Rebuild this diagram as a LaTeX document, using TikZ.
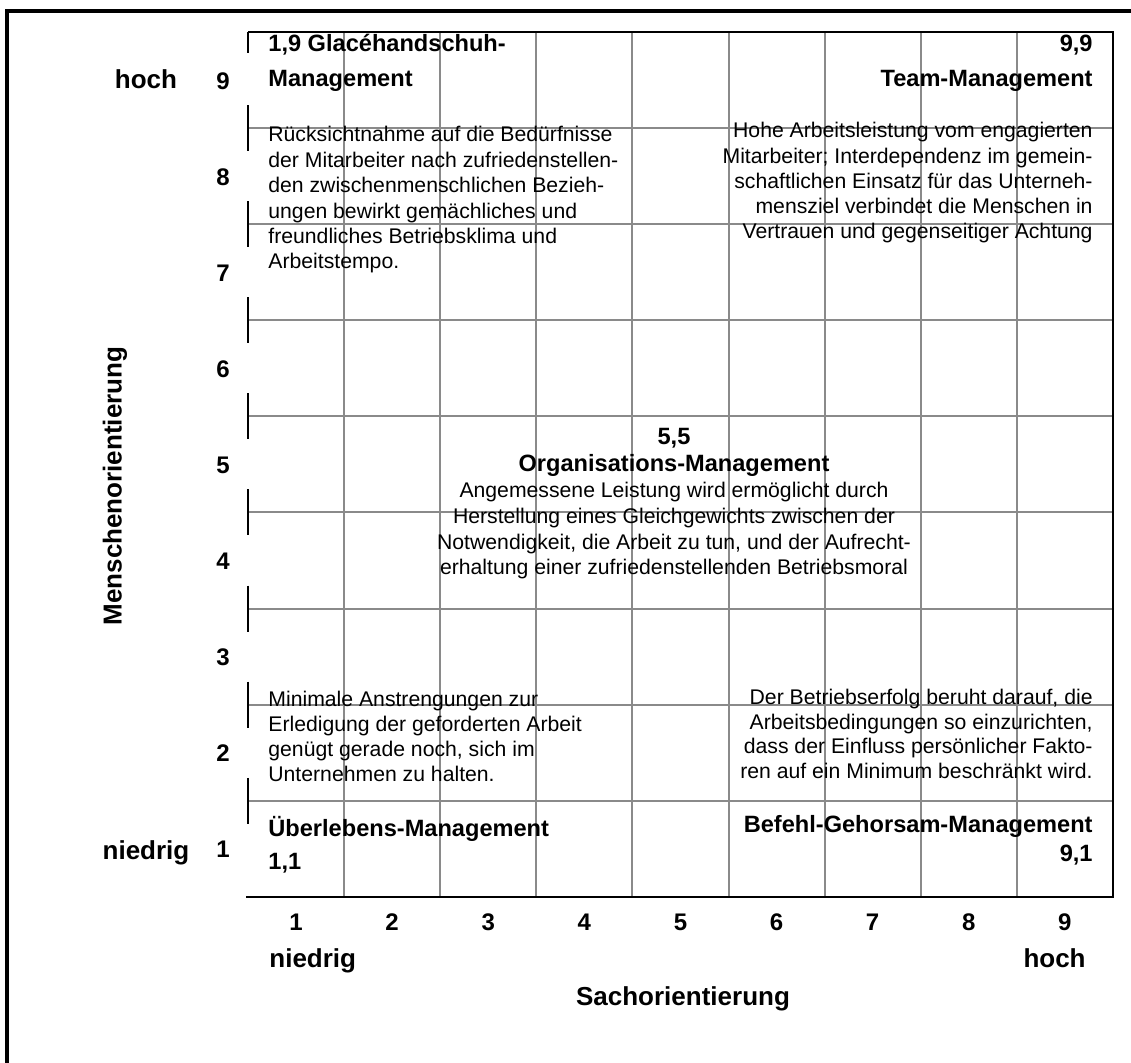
\documentclass[tikz,border=0pt]{standalone}
\usepackage{fontspec}
\setmainfont{Liberation Sans}
\definecolor{GridGray}{HTML}{8A8A8A}

\begin{document}
\begin{tikzpicture}[x=0.5pt,y=-0.5pt,
    gridline/.style={GridGray,line width=1pt},
    border/.style={black,line width=1pt},
    body/.style={font=\fontsize{10.6}{12.7}\selectfont,inner sep=0pt},
    head/.style={font=\fontsize{11.8}{14}\selectfont\bfseries,inner sep=0pt},
    axnum/.style={font=\fontsize{12}{14}\selectfont\bfseries,inner sep=0pt},
    axlab/.style={font=\fontsize{13}{15}\selectfont\bfseries,inner sep=0pt}]
    \def\C{96.1}
    \def\L{248}
    \def\T{32}
    \useasboundingbox (0,0) rectangle (1131,1063);
    \draw[line width=2pt] (7,1070) -- (7,11) -- (1140,11);

    % grid
    \foreach \k in {1,...,8}{
      \draw[gridline] ({\L+\k*\C},\T) -- ({\L+\k*\C},{\T+9*\C});
      \draw[gridline] (\L,{\T+\k*\C}) -- ({\L+9*\C},{\T+\k*\C});
    }
    \draw[border] (\L,\T) -- ({\L+9*\C},\T) -- ({\L+9*\C},{\T+9*\C}) -- (246,{\T+9*\C});
    \draw[border] (\L,\T) -- (\L,53);
    \foreach \k in {1,...,8}
      \draw[border] (\L,{\T+\k*\C-23}) -- (\L,{\T+\k*\C+23});

    % axes
    \foreach \n in {1,...,9}{
      \node[axnum,anchor=base] (y\n) at (223,{\T+(9.5-\n)*\C+9}) {\n};
      \node[axnum,anchor=base] (x\n) at ({\L+(\n-0.5)*\C},931) {\n};
    }
    \node[axlab,anchor=base] (yhoch) at (146,89) {hoch};
    \node[axlab,anchor=base] (yniedrig) at (146,860) {niedrig};
    \node[axlab,anchor=base west] (xniedrig) at (269,967) {niedrig};
    \node[axlab,anchor=base east] (xhoch) at (1086,967) {hoch};
    \node[axlab,anchor=base] (xtitle) at (683,1006) {Sachorientierung};
    \node[axlab,rotate=90] (ytitle) at (115,486) {Menschenorientierung};

    % 1,9
    \foreach \lab [count=\i] in {{1,9 Glacéhandschuh-},Management}
      \node[head,anchor=base west] (gh\i) at (268,{52+35*(\i-1)}) {\lab};
    \foreach \lab [count=\i] in {
      Rücksichtnahme auf die Bedürfnisse,
      der Mitarbeiter nach zufriedenstellen-,
      den zwischenmenschlichen Bezieh-,
      ungen bewirkt gemächliches und,
      freundliches Betriebsklima und,
      Arbeitstempo.}
      \node[body,anchor=base west] (gb\i) at (268,{142+25.4*(\i-1)}) {\lab};

    % 9,9
    \foreach \lab [count=\i] in {{9,9},Team-Management}
      \node[head,anchor=base east] (th\i) at (1093,{52+35*(\i-1)}) {\lab};
    \foreach \lab [count=\i] in {
      Hohe Arbeitsleistung vom engagierten,
      Mitarbeiter; Interdependenz im gemein-,
      schaftlichen Einsatz für das Unterneh-,
      mensziel verbindet die Menschen in,
      Vertrauen und gegenseitiger Achtung}
      \node[body,anchor=base east] (tb\i) at (1093,{138+25.2*(\i-1)}) {\lab};

    % 5,5
    \foreach \lab [count=\i] in {{5,5},Organisations-Management}
      \node[head,anchor=base] (oh\i) at (674,{445+27*(\i-1)}) {\lab};
    \foreach \lab [count=\i] in {
      Angemessene Leistung wird ermöglicht durch,
      Herstellung eines Gleichgewichts zwischen der,
      {Notwendigkeit, die Arbeit zu tun, und der Aufrecht-},
      erhaltung einer zufriedenstellenden Betriebsmoral}
      \node[body,anchor=base] (ob\i) at (674,{498+25.6*(\i-1)}) {\lab};

    % 1,1
    \foreach \lab [count=\i] in {
      Minimale Anstrengungen zur,
      Erledigung der geforderten Arbeit,
      {genügt gerade noch, sich im},
      Unternehmen zu halten.}
      \node[body,anchor=base west] (ub\i) at (268,{707+24.7*(\i-1)}) {\lab};
    \foreach \lab [count=\i] in {Überlebens-Management,{1,1}}
      \node[head,anchor=base west] (uh\i) at (268,{837+33*(\i-1)}) {\lab};

    % 9,1
    \foreach \lab [count=\i] in {
      {Der Betriebserfolg beruht darauf, die},
      {Arbeitsbedingungen so einzurichten,},
      dass der Einfluss persönlicher Fakto-,
      ren auf ein Minimum beschränkt wird.}
      \node[body,anchor=base east] (bb\i) at (1093,{705+24.4*(\i-1)}) {\lab};
    \foreach \lab [count=\i] in {Befehl-Gehorsam-Management,{9,1}}
      \node[head,anchor=base east] (bh\i) at (1093,{833+29*(\i-1)}) {\lab};
  \end{tikzpicture}
\end{document}
